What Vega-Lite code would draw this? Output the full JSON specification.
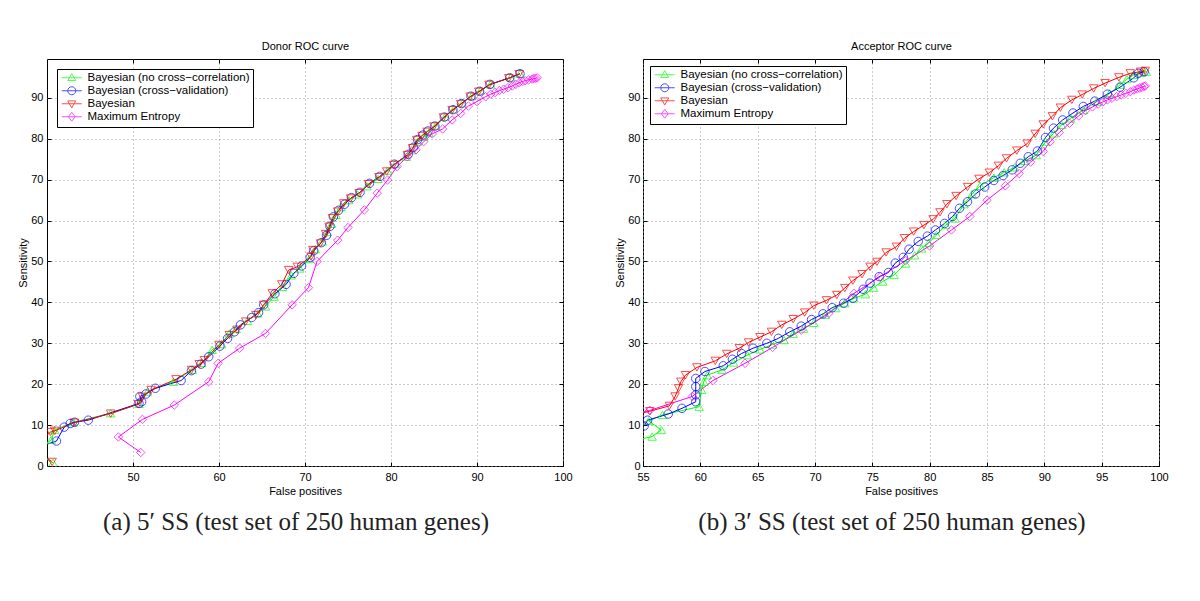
{
  "$schema": "https://vega.github.io/schema/vega-lite/v6.json",
  "padding": {"left": 17, "top": 40, "right": 5, "bottom": 5},
  "background": "white",
  "spacing": 41,
  "datasets": {
    "donor": [
      {"s": "Bayesian (no cross−correlation)", "x": 40.7, "y": 0.8},
      {"s": "Bayesian (no cross−correlation)", "x": 38.6, "y": 3.2},
      {"s": "Bayesian (no cross−correlation)", "x": 40.5, "y": 6.4},
      {"s": "Bayesian (no cross−correlation)", "x": 40.9, "y": 8.8},
      {"s": "Bayesian (no cross−correlation)", "x": 43.1, "y": 10.7},
      {"s": "Bayesian (no cross−correlation)", "x": 47.4, "y": 12.9},
      {"s": "Bayesian (no cross−correlation)", "x": 50.7, "y": 15.2},
      {"s": "Bayesian (no cross−correlation)", "x": 51.7, "y": 18.2},
      {"s": "Bayesian (no cross−correlation)", "x": 54.7, "y": 20.6},
      {"s": "Bayesian (no cross−correlation)", "x": 56.9, "y": 23.5},
      {"s": "Bayesian (no cross−correlation)", "x": 58.0, "y": 25.2},
      {"s": "Bayesian (no cross−correlation)", "x": 59.2, "y": 28.4},
      {"s": "Bayesian (no cross−correlation)", "x": 60.3, "y": 29.8},
      {"s": "Bayesian (no cross−correlation)", "x": 61.2, "y": 32.4},
      {"s": "Bayesian (no cross−correlation)", "x": 62.0, "y": 33.5},
      {"s": "Bayesian (no cross−correlation)", "x": 63.3, "y": 35.5},
      {"s": "Bayesian (no cross−correlation)", "x": 64.5, "y": 37.3},
      {"s": "Bayesian (no cross−correlation)", "x": 65.4, "y": 39.0},
      {"s": "Bayesian (no cross−correlation)", "x": 66.4, "y": 41.4},
      {"s": "Bayesian (no cross−correlation)", "x": 67.4, "y": 43.8},
      {"s": "Bayesian (no cross−correlation)", "x": 68.4, "y": 46.6},
      {"s": "Bayesian (no cross−correlation)", "x": 69.4, "y": 48.3},
      {"s": "Bayesian (no cross−correlation)", "x": 70.5, "y": 50.6},
      {"s": "Bayesian (no cross−correlation)", "x": 71.2, "y": 53.0},
      {"s": "Bayesian (no cross−correlation)", "x": 72.0, "y": 54.9},
      {"s": "Bayesian (no cross−correlation)", "x": 72.6, "y": 57.2},
      {"s": "Bayesian (no cross−correlation)", "x": 73.1, "y": 59.2},
      {"s": "Bayesian (no cross−correlation)", "x": 73.6, "y": 61.4},
      {"s": "Bayesian (no cross−correlation)", "x": 74.2, "y": 63.3},
      {"s": "Bayesian (no cross−correlation)", "x": 75.1, "y": 65.0},
      {"s": "Bayesian (no cross−correlation)", "x": 76.1, "y": 66.4},
      {"s": "Bayesian (no cross−correlation)", "x": 77.2, "y": 68.4},
      {"s": "Bayesian (no cross−correlation)", "x": 78.5, "y": 70.2},
      {"s": "Bayesian (no cross−correlation)", "x": 79.6, "y": 72.2},
      {"s": "Bayesian (no cross−correlation)", "x": 80.5, "y": 73.9},
      {"s": "Bayesian (no cross−correlation)", "x": 81.8, "y": 75.6},
      {"s": "Bayesian (no cross−correlation)", "x": 82.4, "y": 77.2},
      {"s": "Bayesian (no cross−correlation)", "x": 83.1, "y": 79.3},
      {"s": "Bayesian (no cross−correlation)", "x": 83.8, "y": 80.5},
      {"s": "Bayesian (no cross−correlation)", "x": 84.4, "y": 81.5},
      {"s": "Bayesian (no cross−correlation)", "x": 85.2, "y": 83.2},
      {"s": "Bayesian (no cross−correlation)", "x": 86.3, "y": 85.4},
      {"s": "Bayesian (no cross−correlation)", "x": 87.3, "y": 87.2},
      {"s": "Bayesian (no cross−correlation)", "x": 88.3, "y": 88.7},
      {"s": "Bayesian (no cross−correlation)", "x": 89.4, "y": 90.5},
      {"s": "Bayesian (no cross−correlation)", "x": 90.4, "y": 91.8},
      {"s": "Bayesian (no cross−correlation)", "x": 91.6, "y": 93.3},
      {"s": "Bayesian (no cross−correlation)", "x": 93.9, "y": 95.0},
      {"s": "Bayesian (no cross−correlation)", "x": 95.0, "y": 95.9},
      {"s": "Bayesian (cross−validation)", "x": 38.8, "y": 4.5},
      {"s": "Bayesian (cross−validation)", "x": 41.1, "y": 6.1},
      {"s": "Bayesian (cross−validation)", "x": 42.0, "y": 9.5},
      {"s": "Bayesian (cross−validation)", "x": 42.7, "y": 10.4},
      {"s": "Bayesian (cross−validation)", "x": 43.2, "y": 10.7},
      {"s": "Bayesian (cross−validation)", "x": 44.8, "y": 11.2},
      {"s": "Bayesian (cross−validation)", "x": 50.7, "y": 15.3},
      {"s": "Bayesian (cross−validation)", "x": 51.0, "y": 15.7},
      {"s": "Bayesian (cross−validation)", "x": 50.8, "y": 17.0},
      {"s": "Bayesian (cross−validation)", "x": 51.5, "y": 17.6},
      {"s": "Bayesian (cross−validation)", "x": 52.6, "y": 19.0},
      {"s": "Bayesian (cross−validation)", "x": 55.6, "y": 20.9},
      {"s": "Bayesian (cross−validation)", "x": 56.8, "y": 23.3},
      {"s": "Bayesian (cross−validation)", "x": 57.9, "y": 24.9},
      {"s": "Bayesian (cross−validation)", "x": 58.8, "y": 26.7},
      {"s": "Bayesian (cross−validation)", "x": 60.1, "y": 29.3},
      {"s": "Bayesian (cross−validation)", "x": 61.0, "y": 31.2},
      {"s": "Bayesian (cross−validation)", "x": 61.8, "y": 32.8},
      {"s": "Bayesian (cross−validation)", "x": 62.5, "y": 34.5},
      {"s": "Bayesian (cross−validation)", "x": 63.8, "y": 36.3},
      {"s": "Bayesian (cross−validation)", "x": 64.6, "y": 37.5},
      {"s": "Bayesian (cross−validation)", "x": 65.2, "y": 39.4},
      {"s": "Bayesian (cross−validation)", "x": 66.5, "y": 42.1},
      {"s": "Bayesian (cross−validation)", "x": 67.8, "y": 44.4},
      {"s": "Bayesian (cross−validation)", "x": 68.7, "y": 47.1},
      {"s": "Bayesian (cross−validation)", "x": 69.6, "y": 48.9},
      {"s": "Bayesian (cross−validation)", "x": 70.6, "y": 51.0},
      {"s": "Bayesian (cross−validation)", "x": 71.0, "y": 52.6},
      {"s": "Bayesian (cross−validation)", "x": 71.9, "y": 54.6},
      {"s": "Bayesian (cross−validation)", "x": 72.5, "y": 56.4},
      {"s": "Bayesian (cross−validation)", "x": 72.9, "y": 58.6},
      {"s": "Bayesian (cross−validation)", "x": 73.3, "y": 60.9},
      {"s": "Bayesian (cross−validation)", "x": 73.9, "y": 62.5},
      {"s": "Bayesian (cross−validation)", "x": 74.6, "y": 64.0},
      {"s": "Bayesian (cross−validation)", "x": 75.4, "y": 65.6},
      {"s": "Bayesian (cross−validation)", "x": 76.4, "y": 66.9},
      {"s": "Bayesian (cross−validation)", "x": 77.5, "y": 69.1},
      {"s": "Bayesian (cross−validation)", "x": 78.7, "y": 70.8},
      {"s": "Bayesian (cross−validation)", "x": 80.4, "y": 73.8},
      {"s": "Bayesian (cross−validation)", "x": 82.0, "y": 76.2},
      {"s": "Bayesian (cross−validation)", "x": 82.6, "y": 77.9},
      {"s": "Bayesian (cross−validation)", "x": 83.1, "y": 79.8},
      {"s": "Bayesian (cross−validation)", "x": 83.7, "y": 80.9},
      {"s": "Bayesian (cross−validation)", "x": 84.3, "y": 81.9},
      {"s": "Bayesian (cross−validation)", "x": 85.1, "y": 83.1},
      {"s": "Bayesian (cross−validation)", "x": 86.2, "y": 85.3},
      {"s": "Bayesian (cross−validation)", "x": 87.2, "y": 87.1},
      {"s": "Bayesian (cross−validation)", "x": 88.2, "y": 88.6},
      {"s": "Bayesian (cross−validation)", "x": 89.3, "y": 90.4},
      {"s": "Bayesian (cross−validation)", "x": 90.3, "y": 91.6},
      {"s": "Bayesian (cross−validation)", "x": 91.5, "y": 93.3},
      {"s": "Bayesian (cross−validation)", "x": 93.8, "y": 94.9},
      {"s": "Bayesian (cross−validation)", "x": 95.0, "y": 95.9},
      {"s": "Bayesian", "x": 40.6, "y": 1.0},
      {"s": "Bayesian", "x": 38.4, "y": 4.5},
      {"s": "Bayesian", "x": 40.4, "y": 8.3},
      {"s": "Bayesian", "x": 40.9, "y": 8.6},
      {"s": "Bayesian", "x": 43.2, "y": 10.6},
      {"s": "Bayesian", "x": 47.4, "y": 12.8},
      {"s": "Bayesian", "x": 50.6, "y": 15.1},
      {"s": "Bayesian", "x": 51.1, "y": 16.9},
      {"s": "Bayesian", "x": 52.1, "y": 18.6},
      {"s": "Bayesian", "x": 55.0, "y": 21.2},
      {"s": "Bayesian", "x": 56.8, "y": 23.5},
      {"s": "Bayesian", "x": 57.7, "y": 24.9},
      {"s": "Bayesian", "x": 58.3, "y": 25.9},
      {"s": "Bayesian", "x": 60.0, "y": 29.6},
      {"s": "Bayesian", "x": 61.2, "y": 32.0},
      {"s": "Bayesian", "x": 62.1, "y": 33.3},
      {"s": "Bayesian", "x": 63.1, "y": 35.3},
      {"s": "Bayesian", "x": 64.3, "y": 36.9},
      {"s": "Bayesian", "x": 65.2, "y": 39.4},
      {"s": "Bayesian", "x": 66.2, "y": 42.2},
      {"s": "Bayesian", "x": 67.3, "y": 44.4},
      {"s": "Bayesian", "x": 68.1, "y": 47.9},
      {"s": "Bayesian", "x": 69.1, "y": 48.7},
      {"s": "Bayesian", "x": 70.7, "y": 51.2},
      {"s": "Bayesian", "x": 70.9, "y": 52.8},
      {"s": "Bayesian", "x": 71.8, "y": 54.4},
      {"s": "Bayesian", "x": 72.4, "y": 56.7},
      {"s": "Bayesian", "x": 72.8, "y": 58.5},
      {"s": "Bayesian", "x": 73.2, "y": 60.6},
      {"s": "Bayesian", "x": 73.8, "y": 62.2},
      {"s": "Bayesian", "x": 74.5, "y": 64.2},
      {"s": "Bayesian", "x": 75.3, "y": 65.4},
      {"s": "Bayesian", "x": 76.3, "y": 66.7},
      {"s": "Bayesian", "x": 77.4, "y": 68.9},
      {"s": "Bayesian", "x": 78.6, "y": 70.6},
      {"s": "Bayesian", "x": 79.5, "y": 72.0},
      {"s": "Bayesian", "x": 80.3, "y": 73.6},
      {"s": "Bayesian", "x": 81.9, "y": 76.0},
      {"s": "Bayesian", "x": 82.5, "y": 77.7},
      {"s": "Bayesian", "x": 83.0, "y": 79.7},
      {"s": "Bayesian", "x": 83.6, "y": 80.7},
      {"s": "Bayesian", "x": 84.2, "y": 81.7},
      {"s": "Bayesian", "x": 85.0, "y": 83.0},
      {"s": "Bayesian", "x": 86.1, "y": 85.2},
      {"s": "Bayesian", "x": 87.1, "y": 87.0},
      {"s": "Bayesian", "x": 88.1, "y": 88.5},
      {"s": "Bayesian", "x": 89.2, "y": 90.3},
      {"s": "Bayesian", "x": 90.2, "y": 91.5},
      {"s": "Bayesian", "x": 91.4, "y": 93.2},
      {"s": "Bayesian", "x": 93.7, "y": 94.8},
      {"s": "Bayesian", "x": 94.9, "y": 95.8},
      {"s": "Maximum Entropy", "x": 50.9, "y": 3.3},
      {"s": "Maximum Entropy", "x": 48.3, "y": 7.1},
      {"s": "Maximum Entropy", "x": 51.1, "y": 11.4},
      {"s": "Maximum Entropy", "x": 54.8, "y": 14.9},
      {"s": "Maximum Entropy", "x": 58.8, "y": 20.6},
      {"s": "Maximum Entropy", "x": 59.9, "y": 25.1},
      {"s": "Maximum Entropy", "x": 62.4, "y": 28.8},
      {"s": "Maximum Entropy", "x": 65.4, "y": 32.4},
      {"s": "Maximum Entropy", "x": 68.5, "y": 39.4},
      {"s": "Maximum Entropy", "x": 70.4, "y": 43.6},
      {"s": "Maximum Entropy", "x": 71.4, "y": 50.0},
      {"s": "Maximum Entropy", "x": 73.8, "y": 55.2},
      {"s": "Maximum Entropy", "x": 75.0, "y": 58.3},
      {"s": "Maximum Entropy", "x": 76.9, "y": 62.6},
      {"s": "Maximum Entropy", "x": 78.4, "y": 66.7},
      {"s": "Maximum Entropy", "x": 79.6, "y": 69.9},
      {"s": "Maximum Entropy", "x": 80.7, "y": 73.2},
      {"s": "Maximum Entropy", "x": 81.9, "y": 75.6},
      {"s": "Maximum Entropy", "x": 82.9, "y": 77.3},
      {"s": "Maximum Entropy", "x": 83.8, "y": 79.3},
      {"s": "Maximum Entropy", "x": 84.8, "y": 81.2},
      {"s": "Maximum Entropy", "x": 86.0, "y": 82.4},
      {"s": "Maximum Entropy", "x": 87.1, "y": 84.6},
      {"s": "Maximum Entropy", "x": 88.1, "y": 86.2},
      {"s": "Maximum Entropy", "x": 89.0, "y": 88.0},
      {"s": "Maximum Entropy", "x": 90.0, "y": 89.1},
      {"s": "Maximum Entropy", "x": 91.0, "y": 90.3},
      {"s": "Maximum Entropy", "x": 91.6, "y": 90.9},
      {"s": "Maximum Entropy", "x": 92.1, "y": 91.3},
      {"s": "Maximum Entropy", "x": 92.6, "y": 91.8},
      {"s": "Maximum Entropy", "x": 93.1, "y": 92.1},
      {"s": "Maximum Entropy", "x": 93.6, "y": 92.5},
      {"s": "Maximum Entropy", "x": 94.1, "y": 92.9},
      {"s": "Maximum Entropy", "x": 94.5, "y": 93.3},
      {"s": "Maximum Entropy", "x": 94.9, "y": 93.7},
      {"s": "Maximum Entropy", "x": 95.3, "y": 94.0},
      {"s": "Maximum Entropy", "x": 95.6, "y": 94.2},
      {"s": "Maximum Entropy", "x": 96.0, "y": 94.4},
      {"s": "Maximum Entropy", "x": 96.4, "y": 94.6},
      {"s": "Maximum Entropy", "x": 96.6, "y": 94.7},
      {"s": "Maximum Entropy", "x": 96.8, "y": 94.8},
      {"s": "Maximum Entropy", "x": 97.0, "y": 94.9}
    ],
    "acceptor": [
      {"s": "Bayesian (no cross−correlation)", "x": 54.5, "y": 6.4},
      {"s": "Bayesian (no cross−correlation)", "x": 55.8, "y": 7.2},
      {"s": "Bayesian (no cross−correlation)", "x": 56.6, "y": 8.8},
      {"s": "Bayesian (no cross−correlation)", "x": 55.5, "y": 11.0},
      {"s": "Bayesian (no cross−correlation)", "x": 56.7, "y": 12.5},
      {"s": "Bayesian (no cross−correlation)", "x": 59.9, "y": 14.5},
      {"s": "Bayesian (no cross−correlation)", "x": 60.1, "y": 18.6},
      {"s": "Bayesian (no cross−correlation)", "x": 60.3, "y": 20.6},
      {"s": "Bayesian (no cross−correlation)", "x": 60.6, "y": 22.2},
      {"s": "Bayesian (no cross−correlation)", "x": 61.9, "y": 23.5},
      {"s": "Bayesian (no cross−correlation)", "x": 62.9, "y": 25.3},
      {"s": "Bayesian (no cross−correlation)", "x": 64.1, "y": 27.1},
      {"s": "Bayesian (no cross−correlation)", "x": 65.2, "y": 28.5},
      {"s": "Bayesian (no cross−correlation)", "x": 66.3, "y": 29.7},
      {"s": "Bayesian (no cross−correlation)", "x": 67.3, "y": 30.8},
      {"s": "Bayesian (no cross−correlation)", "x": 68.1, "y": 32.3},
      {"s": "Bayesian (no cross−correlation)", "x": 69.0, "y": 33.6},
      {"s": "Bayesian (no cross−correlation)", "x": 69.9, "y": 35.0},
      {"s": "Bayesian (no cross−correlation)", "x": 70.9, "y": 37.0},
      {"s": "Bayesian (no cross−correlation)", "x": 71.8, "y": 38.6},
      {"s": "Bayesian (no cross−correlation)", "x": 72.6, "y": 39.8},
      {"s": "Bayesian (no cross−correlation)", "x": 73.4, "y": 41.0},
      {"s": "Bayesian (no cross−correlation)", "x": 74.4, "y": 42.0},
      {"s": "Bayesian (no cross−correlation)", "x": 75.1, "y": 43.6},
      {"s": "Bayesian (no cross−correlation)", "x": 75.9, "y": 45.1},
      {"s": "Bayesian (no cross−correlation)", "x": 76.9, "y": 46.7},
      {"s": "Bayesian (no cross−correlation)", "x": 77.9, "y": 49.5},
      {"s": "Bayesian (no cross−correlation)", "x": 78.7, "y": 51.5},
      {"s": "Bayesian (no cross−correlation)", "x": 79.3, "y": 53.2},
      {"s": "Bayesian (no cross−correlation)", "x": 79.9, "y": 54.5},
      {"s": "Bayesian (no cross−correlation)", "x": 80.6, "y": 56.5},
      {"s": "Bayesian (no cross−correlation)", "x": 81.4, "y": 58.9},
      {"s": "Bayesian (no cross−correlation)", "x": 82.2, "y": 60.5},
      {"s": "Bayesian (no cross−correlation)", "x": 83.0, "y": 64.0},
      {"s": "Bayesian (no cross−correlation)", "x": 83.7, "y": 66.5},
      {"s": "Bayesian (no cross−correlation)", "x": 84.4, "y": 68.5},
      {"s": "Bayesian (no cross−correlation)", "x": 85.6, "y": 70.5},
      {"s": "Bayesian (no cross−correlation)", "x": 86.5, "y": 71.8},
      {"s": "Bayesian (no cross−correlation)", "x": 87.4, "y": 73.0},
      {"s": "Bayesian (no cross−correlation)", "x": 88.3, "y": 74.6},
      {"s": "Bayesian (no cross−correlation)", "x": 89.3, "y": 76.0},
      {"s": "Bayesian (no cross−correlation)", "x": 90.1, "y": 79.3},
      {"s": "Bayesian (no cross−correlation)", "x": 90.8, "y": 81.3},
      {"s": "Bayesian (no cross−correlation)", "x": 91.5, "y": 83.4},
      {"s": "Bayesian (no cross−correlation)", "x": 92.3, "y": 85.0},
      {"s": "Bayesian (no cross−correlation)", "x": 93.4, "y": 87.0},
      {"s": "Bayesian (no cross−correlation)", "x": 94.6, "y": 89.1},
      {"s": "Bayesian (no cross−correlation)", "x": 95.7, "y": 91.1},
      {"s": "Bayesian (no cross−correlation)", "x": 96.6, "y": 93.2},
      {"s": "Bayesian (no cross−correlation)", "x": 97.2, "y": 94.6},
      {"s": "Bayesian (no cross−correlation)", "x": 97.8, "y": 95.6},
      {"s": "Bayesian (no cross−correlation)", "x": 98.5, "y": 96.2},
      {"s": "Bayesian (no cross−correlation)", "x": 98.9, "y": 96.4},
      {"s": "Bayesian (cross−validation)", "x": 54.5, "y": 9.0},
      {"s": "Bayesian (cross−validation)", "x": 55.1, "y": 9.8},
      {"s": "Bayesian (cross−validation)", "x": 55.4, "y": 11.2},
      {"s": "Bayesian (cross−validation)", "x": 57.2, "y": 12.7},
      {"s": "Bayesian (cross−validation)", "x": 58.4, "y": 14.1},
      {"s": "Bayesian (cross−validation)", "x": 59.6, "y": 15.7},
      {"s": "Bayesian (cross−validation)", "x": 59.6, "y": 17.4},
      {"s": "Bayesian (cross−validation)", "x": 59.6, "y": 19.4},
      {"s": "Bayesian (cross−validation)", "x": 59.6, "y": 21.4},
      {"s": "Bayesian (cross−validation)", "x": 60.4, "y": 23.1},
      {"s": "Bayesian (cross−validation)", "x": 62.0, "y": 24.5},
      {"s": "Bayesian (cross−validation)", "x": 62.8, "y": 26.1},
      {"s": "Bayesian (cross−validation)", "x": 63.6, "y": 27.5},
      {"s": "Bayesian (cross−validation)", "x": 64.6, "y": 28.8},
      {"s": "Bayesian (cross−validation)", "x": 65.8, "y": 30.0},
      {"s": "Bayesian (cross−validation)", "x": 66.8, "y": 31.2},
      {"s": "Bayesian (cross−validation)", "x": 67.8, "y": 32.8},
      {"s": "Bayesian (cross−validation)", "x": 68.8, "y": 34.2},
      {"s": "Bayesian (cross−validation)", "x": 69.7, "y": 35.8},
      {"s": "Bayesian (cross−validation)", "x": 70.7, "y": 37.2},
      {"s": "Bayesian (cross−validation)", "x": 71.5, "y": 38.7},
      {"s": "Bayesian (cross−validation)", "x": 72.5, "y": 39.8},
      {"s": "Bayesian (cross−validation)", "x": 73.3, "y": 41.0},
      {"s": "Bayesian (cross−validation)", "x": 74.2, "y": 43.2},
      {"s": "Bayesian (cross−validation)", "x": 74.8, "y": 44.7},
      {"s": "Bayesian (cross−validation)", "x": 75.6, "y": 46.3},
      {"s": "Bayesian (cross−validation)", "x": 76.4, "y": 47.3},
      {"s": "Bayesian (cross−validation)", "x": 77.0, "y": 49.6},
      {"s": "Bayesian (cross−validation)", "x": 77.7, "y": 51.0},
      {"s": "Bayesian (cross−validation)", "x": 78.2, "y": 53.0},
      {"s": "Bayesian (cross−validation)", "x": 79.0, "y": 54.9},
      {"s": "Bayesian (cross−validation)", "x": 79.8, "y": 56.2},
      {"s": "Bayesian (cross−validation)", "x": 80.5, "y": 57.7},
      {"s": "Bayesian (cross−validation)", "x": 81.3, "y": 59.3},
      {"s": "Bayesian (cross−validation)", "x": 82.0, "y": 61.0},
      {"s": "Bayesian (cross−validation)", "x": 82.6, "y": 63.0},
      {"s": "Bayesian (cross−validation)", "x": 83.3, "y": 64.6},
      {"s": "Bayesian (cross−validation)", "x": 84.0, "y": 66.5},
      {"s": "Bayesian (cross−validation)", "x": 84.8, "y": 68.2},
      {"s": "Bayesian (cross−validation)", "x": 85.6, "y": 69.8},
      {"s": "Bayesian (cross−validation)", "x": 86.4, "y": 71.0},
      {"s": "Bayesian (cross−validation)", "x": 87.2, "y": 72.4},
      {"s": "Bayesian (cross−validation)", "x": 87.9, "y": 74.0},
      {"s": "Bayesian (cross−validation)", "x": 88.6, "y": 75.6},
      {"s": "Bayesian (cross−validation)", "x": 89.4, "y": 77.0},
      {"s": "Bayesian (cross−validation)", "x": 90.1, "y": 80.3},
      {"s": "Bayesian (cross−validation)", "x": 90.8, "y": 82.6},
      {"s": "Bayesian (cross−validation)", "x": 91.6, "y": 84.6},
      {"s": "Bayesian (cross−validation)", "x": 92.5, "y": 86.3},
      {"s": "Bayesian (cross−validation)", "x": 93.4, "y": 87.9},
      {"s": "Bayesian (cross−validation)", "x": 94.4, "y": 89.2},
      {"s": "Bayesian (cross−validation)", "x": 95.5, "y": 90.9},
      {"s": "Bayesian (cross−validation)", "x": 96.6, "y": 92.6},
      {"s": "Bayesian (cross−validation)", "x": 97.8, "y": 94.9},
      {"s": "Bayesian (cross−validation)", "x": 98.2, "y": 96.0},
      {"s": "Bayesian (cross−validation)", "x": 98.7, "y": 96.4},
      {"s": "Bayesian", "x": 54.5, "y": 12.6},
      {"s": "Bayesian", "x": 55.6, "y": 13.4},
      {"s": "Bayesian", "x": 57.3, "y": 14.7},
      {"s": "Bayesian", "x": 57.8, "y": 17.0},
      {"s": "Bayesian", "x": 58.1, "y": 19.0},
      {"s": "Bayesian", "x": 58.3, "y": 20.6},
      {"s": "Bayesian", "x": 58.7, "y": 22.2},
      {"s": "Bayesian", "x": 59.7, "y": 24.1},
      {"s": "Bayesian", "x": 61.3, "y": 25.7},
      {"s": "Bayesian", "x": 62.3, "y": 27.4},
      {"s": "Bayesian", "x": 63.4, "y": 28.8},
      {"s": "Bayesian", "x": 64.2, "y": 30.2},
      {"s": "Bayesian", "x": 65.2, "y": 31.5},
      {"s": "Bayesian", "x": 66.2, "y": 32.8},
      {"s": "Bayesian", "x": 67.1, "y": 34.5},
      {"s": "Bayesian", "x": 68.1, "y": 35.9},
      {"s": "Bayesian", "x": 69.1, "y": 37.5},
      {"s": "Bayesian", "x": 69.9, "y": 39.2},
      {"s": "Bayesian", "x": 71.0, "y": 40.5},
      {"s": "Bayesian", "x": 71.9, "y": 41.8},
      {"s": "Bayesian", "x": 72.6, "y": 43.5},
      {"s": "Bayesian", "x": 73.3, "y": 45.3},
      {"s": "Bayesian", "x": 74.1, "y": 46.9},
      {"s": "Bayesian", "x": 74.8, "y": 48.7},
      {"s": "Bayesian", "x": 75.4, "y": 49.9},
      {"s": "Bayesian", "x": 76.2, "y": 52.2},
      {"s": "Bayesian", "x": 77.1, "y": 53.6},
      {"s": "Bayesian", "x": 77.8, "y": 55.7},
      {"s": "Bayesian", "x": 78.6, "y": 57.3},
      {"s": "Bayesian", "x": 79.5, "y": 58.9},
      {"s": "Bayesian", "x": 80.3, "y": 60.3},
      {"s": "Bayesian", "x": 80.9, "y": 62.0},
      {"s": "Bayesian", "x": 81.5, "y": 64.0},
      {"s": "Bayesian", "x": 82.3, "y": 66.0},
      {"s": "Bayesian", "x": 83.3, "y": 68.2},
      {"s": "Bayesian", "x": 84.3, "y": 70.2},
      {"s": "Bayesian", "x": 85.2, "y": 71.7},
      {"s": "Bayesian", "x": 86.0, "y": 73.4},
      {"s": "Bayesian", "x": 86.7, "y": 75.2},
      {"s": "Bayesian", "x": 87.6, "y": 77.1},
      {"s": "Bayesian", "x": 88.5, "y": 78.8},
      {"s": "Bayesian", "x": 89.2, "y": 81.2},
      {"s": "Bayesian", "x": 89.9, "y": 83.5},
      {"s": "Bayesian", "x": 90.7, "y": 85.5},
      {"s": "Bayesian", "x": 91.4, "y": 87.6},
      {"s": "Bayesian", "x": 92.4, "y": 89.5},
      {"s": "Bayesian", "x": 93.3, "y": 90.8},
      {"s": "Bayesian", "x": 94.3, "y": 92.3},
      {"s": "Bayesian", "x": 95.3, "y": 93.6},
      {"s": "Bayesian", "x": 96.5, "y": 95.0},
      {"s": "Bayesian", "x": 97.5, "y": 96.0},
      {"s": "Bayesian", "x": 98.4, "y": 96.4},
      {"s": "Bayesian", "x": 98.8, "y": 96.6},
      {"s": "Maximum Entropy", "x": 54.5, "y": 12.9},
      {"s": "Maximum Entropy", "x": 55.6, "y": 13.6},
      {"s": "Maximum Entropy", "x": 59.3, "y": 17.0},
      {"s": "Maximum Entropy", "x": 61.1, "y": 20.9},
      {"s": "Maximum Entropy", "x": 63.9, "y": 25.1},
      {"s": "Maximum Entropy", "x": 66.3, "y": 29.0},
      {"s": "Maximum Entropy", "x": 68.8, "y": 33.2},
      {"s": "Maximum Entropy", "x": 71.2, "y": 37.3},
      {"s": "Maximum Entropy", "x": 73.4, "y": 42.2},
      {"s": "Maximum Entropy", "x": 75.7, "y": 46.3},
      {"s": "Maximum Entropy", "x": 77.9, "y": 50.2},
      {"s": "Maximum Entropy", "x": 80.0, "y": 53.8},
      {"s": "Maximum Entropy", "x": 81.9, "y": 57.7},
      {"s": "Maximum Entropy", "x": 83.5, "y": 61.0},
      {"s": "Maximum Entropy", "x": 85.0, "y": 65.0},
      {"s": "Maximum Entropy", "x": 86.6, "y": 68.5},
      {"s": "Maximum Entropy", "x": 87.8, "y": 71.5},
      {"s": "Maximum Entropy", "x": 88.8, "y": 74.3},
      {"s": "Maximum Entropy", "x": 89.9, "y": 76.9},
      {"s": "Maximum Entropy", "x": 90.5, "y": 79.3},
      {"s": "Maximum Entropy", "x": 91.3, "y": 81.5},
      {"s": "Maximum Entropy", "x": 92.2, "y": 83.8},
      {"s": "Maximum Entropy", "x": 93.0, "y": 85.6},
      {"s": "Maximum Entropy", "x": 93.6, "y": 86.9},
      {"s": "Maximum Entropy", "x": 94.2, "y": 87.8},
      {"s": "Maximum Entropy", "x": 94.7, "y": 88.5},
      {"s": "Maximum Entropy", "x": 95.1, "y": 89.0},
      {"s": "Maximum Entropy", "x": 95.5, "y": 89.5},
      {"s": "Maximum Entropy", "x": 95.9, "y": 89.9},
      {"s": "Maximum Entropy", "x": 96.3, "y": 90.3},
      {"s": "Maximum Entropy", "x": 96.7, "y": 90.7},
      {"s": "Maximum Entropy", "x": 97.1, "y": 91.1},
      {"s": "Maximum Entropy", "x": 97.5, "y": 91.5},
      {"s": "Maximum Entropy", "x": 97.8, "y": 91.9},
      {"s": "Maximum Entropy", "x": 98.1, "y": 92.2},
      {"s": "Maximum Entropy", "x": 98.3, "y": 92.4},
      {"s": "Maximum Entropy", "x": 98.5, "y": 92.6},
      {"s": "Maximum Entropy", "x": 98.7, "y": 92.8},
      {"s": "Maximum Entropy", "x": 98.8, "y": 92.9}
    ]
  },
  "hconcat": [
    {
      "width": 516,
      "height": 407,
      "data": {"name": "donor"},
      "title": {"text": "(a) 5′ SS (test set of 250 human genes)", "orient": "bottom", "font": "Liberation Serif", "fontSize": 25, "fontWeight": "normal", "color": "#222", "offset": 14, "dx": -9},
      "layer": [
        {
          "mark": {"type": "line", "clip": true, "strokeWidth": 1},
          "encoding": {
            "x": {"field": "x", "type": "quantitative", "scale": {"domain": [40, 100], "nice": false, "zero": false},
                  "axis": {"orient": "bottom", "values": [50, 60, 70, 80, 90, 100], "title": "False positives", "grid": true, "labelPadding": 9, "titlePadding": 3, "labelFlush": false}},
            "y": {"field": "y", "type": "quantitative", "scale": {"domain": [0, 99.5], "nice": false},
                  "axis": {"orient": "left", "values": [0, 10, 20, 30, 40, 50, 60, 70, 80, 90], "title": "Sensitivity", "grid": true, "labelPadding": 8, "titlePadding": 2}},
            "color": {"field": "s", "type": "nominal",
                      "scale": {"domain": ["Bayesian (no cross−correlation)", "Bayesian (cross−validation)", "Bayesian", "Maximum Entropy"], "range": ["#00ff00", "#0000ff", "#ff0000", "#ff00ff"]},
                      "legend": {"orient": "top-left", "offset": 10, "title": null, "padding": 3, "strokeColor": "black", "fillColor": "white", "cornerRadius": 0,
                                 "labelFontSize": 11.5, "labelColor": "black", "labelLimit": 400, "symbolSize": 64, "symbolOffset": 6, "labelOffset": 10, "rowPadding": 0, "symbolStrokeWidth": 1, "symbolFillColor": "transparent"}},
            "order": {"value": null}
          }
        },
        {
          "mark": {"type": "point", "clip": true, "filled": false, "size": 0, "strokeWidth": 1},
          "encoding": {
            "x": {"field": "x", "type": "quantitative",
                  "axis": {"orient": "top", "values": [50, 60, 70, 80, 90, 100], "labels": false, "grid": false, "title": "Donor ROC curve", "titlePadding": 7}},
            "y": {"field": "y", "type": "quantitative",
                  "axis": {"orient": "right", "values": [0, 10, 20, 30, 40, 50, 60, 70, 80, 90], "labels": false, "grid": false, "title": null}},
            "color": {"field": "s", "type": "nominal"},
            "shape": {"field": "s", "type": "nominal",
                      "scale": {"domain": ["Bayesian (no cross−correlation)", "Bayesian (cross−validation)", "Bayesian", "Maximum Entropy"],
                                "range": ["M-2.5,0H2.5M0,-1.05L1,0.7L-1,0.7Z", "M-2.5,0H2.5M-1,0A1,1,0,1,0,1,0A1,1,0,1,0,-1,0", "M-2.5,0H2.5M0,1.05L1,-0.7L-1,-0.7Z", "M-2.5,0H2.5M0,-1.1L0.85,0L0,1.1L-0.85,0Z"]}}
          }
        },
        {
          "transform": [{"filter": {"field": "s", "equal": "Bayesian (no cross−correlation)"}}],
          "mark": {"type": "point", "shape": "triangle-up", "clip": true, "filled": false, "size": 72, "strokeWidth": 1},
          "encoding": {"x": {"field": "x", "type": "quantitative", "axis": null}, "y": {"field": "y", "type": "quantitative", "axis": null}, "color": {"field": "s", "type": "nominal"}}
        },
        {
          "transform": [{"filter": {"field": "s", "equal": "Bayesian (cross−validation)"}}],
          "mark": {"type": "point", "shape": "circle", "clip": true, "filled": false, "size": 72, "strokeWidth": 1},
          "encoding": {"x": {"field": "x", "type": "quantitative", "axis": null}, "y": {"field": "y", "type": "quantitative", "axis": null}, "color": {"field": "s", "type": "nominal"}}
        },
        {
          "transform": [{"filter": {"field": "s", "equal": "Bayesian"}}],
          "mark": {"type": "point", "shape": "triangle-down", "clip": true, "filled": false, "size": 72, "strokeWidth": 1},
          "encoding": {"x": {"field": "x", "type": "quantitative", "axis": null}, "y": {"field": "y", "type": "quantitative", "axis": null}, "color": {"field": "s", "type": "nominal"}}
        },
        {
          "transform": [{"filter": {"field": "s", "equal": "Maximum Entropy"}}],
          "mark": {"type": "point", "shape": "diamond", "clip": true, "filled": false, "size": 72, "strokeWidth": 1},
          "encoding": {"x": {"field": "x", "type": "quantitative", "axis": null}, "y": {"field": "y", "type": "quantitative", "axis": null}, "color": {"field": "s", "type": "nominal"}}
        }
      ],
      "resolve": {"axis": {"x": "independent", "y": "independent"}}
    },
    {
      "width": 516,
      "height": 407,
      "data": {"name": "acceptor"},
      "title": {"text": "(b) 3′ SS (test set of 250 human genes)", "orient": "bottom", "font": "Liberation Serif", "fontSize": 25, "fontWeight": "normal", "color": "#222", "offset": 14, "dx": -9},
      "layer": [
        {
          "mark": {"type": "line", "clip": true, "strokeWidth": 1},
          "encoding": {
            "x": {"field": "x", "type": "quantitative", "scale": {"domain": [55, 100], "nice": false, "zero": false},
                  "axis": {"orient": "bottom", "values": [55, 60, 65, 70, 75, 80, 85, 90, 95, 100], "title": "False positives", "grid": true, "labelPadding": 9, "titlePadding": 3, "labelFlush": false}},
            "y": {"field": "y", "type": "quantitative", "scale": {"domain": [0, 99.5], "nice": false},
                  "axis": {"orient": "left", "values": [0, 10, 20, 30, 40, 50, 60, 70, 80, 90], "title": "Sensitivity", "grid": true, "labelPadding": 7, "titlePadding": 2}},
            "color": {"field": "s", "type": "nominal",
                      "scale": {"domain": ["Bayesian (no cross−correlation)", "Bayesian (cross−validation)", "Bayesian", "Maximum Entropy"], "range": ["#00ff00", "#0000ff", "#ff0000", "#ff00ff"]},
                      "legend": {"orient": "top-left", "offset": 7, "title": null, "padding": 3, "strokeColor": "black", "fillColor": "white", "cornerRadius": 0,
                                 "labelFontSize": 11.5, "labelColor": "black", "labelLimit": 400, "symbolSize": 64, "symbolOffset": 6, "labelOffset": 10, "rowPadding": 0, "symbolStrokeWidth": 1, "symbolFillColor": "transparent"}},
            "order": {"value": null}
          }
        },
        {
          "mark": {"type": "point", "clip": true, "filled": false, "size": 0, "strokeWidth": 1},
          "encoding": {
            "x": {"field": "x", "type": "quantitative",
                  "axis": {"orient": "top", "values": [55, 60, 65, 70, 75, 80, 85, 90, 95, 100], "labels": false, "grid": false, "title": "Acceptor ROC curve", "titlePadding": 7}},
            "y": {"field": "y", "type": "quantitative",
                  "axis": {"orient": "right", "values": [0, 10, 20, 30, 40, 50, 60, 70, 80, 90], "labels": false, "grid": false, "title": null}},
            "color": {"field": "s", "type": "nominal"},
            "shape": {"field": "s", "type": "nominal",
                      "scale": {"domain": ["Bayesian (no cross−correlation)", "Bayesian (cross−validation)", "Bayesian", "Maximum Entropy"],
                                "range": ["M-2.5,0H2.5M0,-1.05L1,0.7L-1,0.7Z", "M-2.5,0H2.5M-1,0A1,1,0,1,0,1,0A1,1,0,1,0,-1,0", "M-2.5,0H2.5M0,1.05L1,-0.7L-1,-0.7Z", "M-2.5,0H2.5M0,-1.1L0.85,0L0,1.1L-0.85,0Z"]}}
          }
        },
        {
          "transform": [{"filter": {"field": "s", "equal": "Bayesian (no cross−correlation)"}}],
          "mark": {"type": "point", "shape": "triangle-up", "clip": true, "filled": false, "size": 72, "strokeWidth": 1},
          "encoding": {"x": {"field": "x", "type": "quantitative", "axis": null}, "y": {"field": "y", "type": "quantitative", "axis": null}, "color": {"field": "s", "type": "nominal"}}
        },
        {
          "transform": [{"filter": {"field": "s", "equal": "Bayesian (cross−validation)"}}],
          "mark": {"type": "point", "shape": "circle", "clip": true, "filled": false, "size": 72, "strokeWidth": 1},
          "encoding": {"x": {"field": "x", "type": "quantitative", "axis": null}, "y": {"field": "y", "type": "quantitative", "axis": null}, "color": {"field": "s", "type": "nominal"}}
        },
        {
          "transform": [{"filter": {"field": "s", "equal": "Bayesian"}}],
          "mark": {"type": "point", "shape": "triangle-down", "clip": true, "filled": false, "size": 72, "strokeWidth": 1},
          "encoding": {"x": {"field": "x", "type": "quantitative", "axis": null}, "y": {"field": "y", "type": "quantitative", "axis": null}, "color": {"field": "s", "type": "nominal"}}
        },
        {
          "transform": [{"filter": {"field": "s", "equal": "Maximum Entropy"}}],
          "mark": {"type": "point", "shape": "diamond", "clip": true, "filled": false, "size": 72, "strokeWidth": 1},
          "encoding": {"x": {"field": "x", "type": "quantitative", "axis": null}, "y": {"field": "y", "type": "quantitative", "axis": null}, "color": {"field": "s", "type": "nominal"}}
        }
      ],
      "resolve": {"axis": {"x": "independent", "y": "independent"}}
    }
  ],
  "resolve": {"scale": {"color": "independent", "shape": "independent"}},
  "config": {
    "font": "Liberation Sans",
    "view": {"stroke": "black", "strokeWidth": 1},
    "axis": {"domain": false, "ticks": true, "tickColor": "black", "tickSize": -4, "tickWidth": 1,
             "labelFont": "Liberation Sans", "labelFontSize": 11, "labelColor": "black",
             "titleFont": "Liberation Sans", "titleFontSize": 11, "titleFontWeight": "normal", "titleColor": "black",
             "gridColor": "#999999", "gridDash": [1, 3], "gridOpacity": 1, "gridWidth": 1},
    "legend": {"labelFont": "Liberation Sans"}
  }
}
